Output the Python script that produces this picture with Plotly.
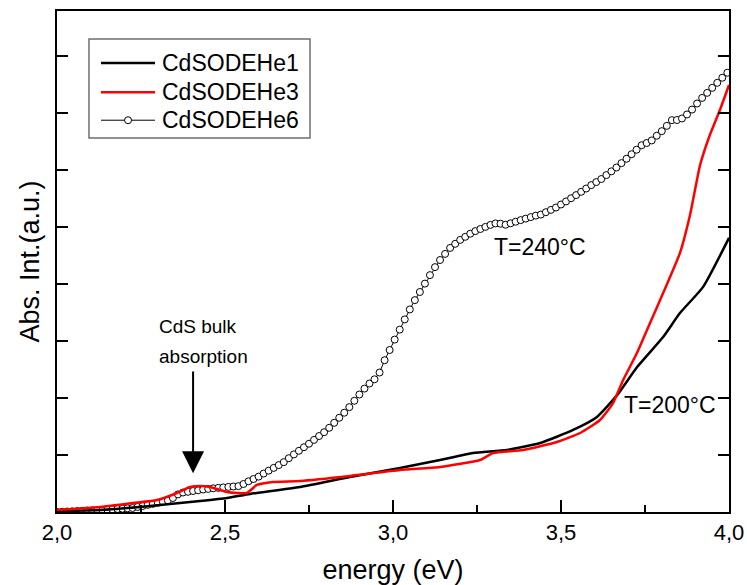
import plotly.graph_objects as go

# ---------------- data ----------------
he1_energy = [2.000, 2.128, 2.247, 2.336, 2.426, 2.506, 2.574, 2.723, 2.872, 3.021,
              3.140, 3.238, 3.339, 3.438, 3.536, 3.607, 3.667, 3.726, 3.804, 3.854,
              3.923, 4.000]
he1_abs = [0.018, 0.035, 0.088, 0.140, 0.193, 0.246, 0.316, 0.439, 0.614, 0.772,
           0.912, 1.035, 1.088, 1.211, 1.439, 1.667, 2.050, 2.540, 3.070, 3.490,
           3.950, 4.810]

he3_energy = [2.000, 2.128, 2.226, 2.298, 2.357, 2.396, 2.426, 2.455, 2.506, 2.536,
              2.565, 2.595, 2.643, 2.723, 2.872, 3.021, 3.140, 3.259, 3.298, 3.387,
              3.488, 3.557, 3.616, 3.655, 3.685, 3.726, 3.765, 3.804, 3.854, 3.884,
              3.914, 3.943, 3.973, 4.000]
he3_abs = [0.035, 0.088, 0.158, 0.211, 0.333, 0.439, 0.456, 0.439, 0.351, 0.333,
           0.333, 0.474, 0.526, 0.544, 0.632, 0.737, 0.789, 0.912, 1.035, 1.088,
           1.228, 1.386, 1.614, 1.912, 2.316, 2.789, 3.316, 3.842, 4.544, 5.211,
           6.088, 6.614, 7.053, 7.491]

he6_energy = [2.000, 2.015, 2.030, 2.045, 2.060, 2.075, 2.090, 2.105, 2.120, 2.135,
              2.150, 2.165, 2.180, 2.195, 2.210, 2.225, 2.240, 2.255, 2.270, 2.285,
              2.300, 2.315, 2.330, 2.345, 2.360, 2.375, 2.390, 2.405, 2.420, 2.435,
              2.450, 2.465, 2.480, 2.495, 2.510, 2.525, 2.540, 2.555, 2.570, 2.585,
              2.600, 2.615, 2.630, 2.645, 2.660, 2.675, 2.690, 2.705, 2.720, 2.735,
              2.750, 2.765, 2.780, 2.795, 2.810, 2.825, 2.840, 2.855, 2.870, 2.885,
              2.900, 2.915, 2.930, 2.945, 2.960, 2.975, 2.990, 3.005, 3.020, 3.035,
              3.050, 3.065, 3.080, 3.095, 3.110, 3.125, 3.140, 3.155, 3.170, 3.185,
              3.200, 3.215, 3.230, 3.245, 3.260, 3.275, 3.290, 3.305, 3.320, 3.335,
              3.350, 3.365, 3.380, 3.395, 3.410, 3.425, 3.440, 3.455, 3.470, 3.485,
              3.500, 3.515, 3.530, 3.545, 3.560, 3.575, 3.590, 3.605, 3.620, 3.635,
              3.650, 3.665, 3.680, 3.695, 3.710, 3.725, 3.740, 3.755, 3.770, 3.785,
              3.800, 3.815, 3.830, 3.845, 3.860, 3.875, 3.890, 3.905, 3.920, 3.935,
              3.950, 3.965, 3.980, 3.995]
he6_abs = [0.000, 0.004, 0.009, 0.012, 0.016, 0.021, 0.025, 0.028, 0.033, 0.037,
           0.042, 0.047, 0.053, 0.058, 0.065, 0.070, 0.088, 0.105, 0.125, 0.142,
           0.161, 0.182, 0.202, 0.246, 0.309, 0.342, 0.354, 0.368, 0.381, 0.395,
           0.405, 0.416, 0.423, 0.432, 0.440, 0.447, 0.454, 0.491, 0.539, 0.579,
           0.621, 0.675, 0.725, 0.774, 0.823, 0.875, 0.944, 1.011, 1.074, 1.137,
           1.198, 1.265, 1.333, 1.400, 1.477, 1.565, 1.653, 1.742, 1.840, 1.951,
           2.061, 2.165, 2.254, 2.328, 2.447, 2.663, 2.842, 3.025, 3.200, 3.379,
           3.554, 3.717, 3.860, 4.007, 4.156, 4.296, 4.421, 4.528, 4.633, 4.705,
           4.774, 4.828, 4.883, 4.928, 4.965, 5.002, 5.037, 5.063, 5.058, 5.040,
           5.065, 5.093, 5.121, 5.147, 5.174, 5.200, 5.218, 5.260, 5.300, 5.342,
           5.395, 5.449, 5.505, 5.560, 5.618, 5.675, 5.735, 5.789, 5.842, 5.911,
           5.977, 6.044, 6.121, 6.198, 6.277, 6.356, 6.435, 6.474, 6.519, 6.602,
           6.682, 6.775, 6.875, 6.877, 6.905, 6.975, 7.060, 7.167, 7.265, 7.354,
           7.442, 7.530, 7.619, 7.707]

series_names = ["CdSODEHe1", "CdSODEHe3", "CdSODEHe6"]
x_tickvals = [2.0, 2.5, 3.0, 3.5, 4.0]
x_title = "energy (eV)"
y_title = "Abs. Int.(a.u.)"

FONT = "Liberation Sans, Arial, sans-serif"

fig = go.Figure()
fig.add_trace(go.Scatter(
    x=he6_energy, y=he6_abs, mode="lines+markers", name=series_names[2],
    line=dict(color="black", width=1),
    marker=dict(symbol="circle", size=7, color="white",
                line=dict(color="black", width=1))))
fig.add_trace(go.Scatter(
    x=he1_energy, y=he1_abs, mode="lines", name=series_names[0],
    line=dict(color="black", width=2.5, shape="spline", smoothing=0.5)))
fig.add_trace(go.Scatter(
    x=he3_energy, y=he3_abs, mode="lines", name=series_names[1],
    line=dict(color="#ff0000", width=2.5, shape="spline", smoothing=0.5)))

# ---------------- manual legend (paper coords) ----------------
shapes = [
    dict(type="rect", xref="paper", yref="paper", x0=0.0476, x1=0.3765,
         y0=0.7465, y1=0.944, line=dict(color="#6e6e6e", width=1.5)),
    dict(type="line", xref="paper", yref="paper", x0=0.0655, x1=0.1458,
         y0=0.896, y1=0.896, line=dict(color="black", width=2.5)),
    dict(type="line", xref="paper", yref="paper", x0=0.0655, x1=0.1458,
         y0=0.838, y1=0.838, line=dict(color="#ff0000", width=2.5)),
    dict(type="line", xref="paper", yref="paper", x0=0.0655, x1=0.1458,
         y0=0.782, y1=0.782, line=dict(color="black", width=1)),
    dict(type="circle", xref="paper", yref="paper", xsizemode="pixel",
         ysizemode="pixel", xanchor=0.1057, yanchor=0.782,
         x0=-3.5, x1=3.5, y0=-3.5, y1=3.5, fillcolor="white",
         line=dict(color="black", width=1)),
]
legend_rows = [0.896, 0.838, 0.782]
annotations = []
for name, yy in zip(series_names, legend_rows):
    annotations.append(dict(xref="paper", yref="paper", x=0.1533, y=yy,
                            text=name, showarrow=False, xanchor="left",
                            yanchor="middle", font=dict(size=23, family=FONT)))

# ---------------- text annotations ----------------
annotations += [
    dict(x=2.298, y=3.246, text="CdS bulk", showarrow=False, xanchor="left",
         yanchor="middle", font=dict(size=19, family=FONT)),
    dict(x=2.298, y=2.737, text="absorption", showarrow=False, xanchor="left",
         yanchor="middle", font=dict(size=19, family=FONT)),
    dict(x=2.405, y=0.68, ax=2.405, ay=2.49, axref="x", ayref="y",
         text="", showarrow=True, arrowhead=2, arrowsize=2.2, arrowwidth=2,
         arrowcolor="black"),
    dict(x=3.4375, y=4.65, text="T=240°C", showarrow=False,
         font=dict(size=23, family=FONT)),
    dict(x=3.824, y=1.877, text="T=200°C", showarrow=False,
         font=dict(size=23, family=FONT)),
]

fig.update_layout(
    width=747, height=585,
    margin=dict(l=57, r=18, t=11, b=73, autoexpand=False),
    plot_bgcolor="white", paper_bgcolor="white",
    showlegend=False,
    separators=", ",
    font=dict(family=FONT, color="black"),
    shapes=shapes,
    annotations=annotations,
    xaxis=dict(range=[2.0, 4.0], tickvals=x_tickvals, tickformat=".1f",
               automargin=False,
               ticks="inside", ticklen=12, tickwidth=1.5, tickcolor="black",
               minor=dict(dtick=0.25, tick0=2.0, ticks="inside", ticklen=7,
                          tickwidth=1.5, tickcolor="black"),
               showline=True, linewidth=2, linecolor="black", mirror=True,
               showgrid=False, zeroline=False,
               tickfont=dict(size=22, family=FONT),
               title=dict(text=x_title, font=dict(size=27, family=FONT),
                          standoff=20)),
    yaxis=dict(range=[0, 8.79], dtick=1, tick0=0, ticks="inside", ticklen=11,
               tickwidth=1.5, tickcolor="black", showticklabels=False,
               automargin=False,
               showline=True, linewidth=2, linecolor="black", mirror="ticks",
               showgrid=False, zeroline=False,
               title=dict(text=y_title, font=dict(size=27, family=FONT),
                          standoff=8)),
)

fig.write_html("out.html")
